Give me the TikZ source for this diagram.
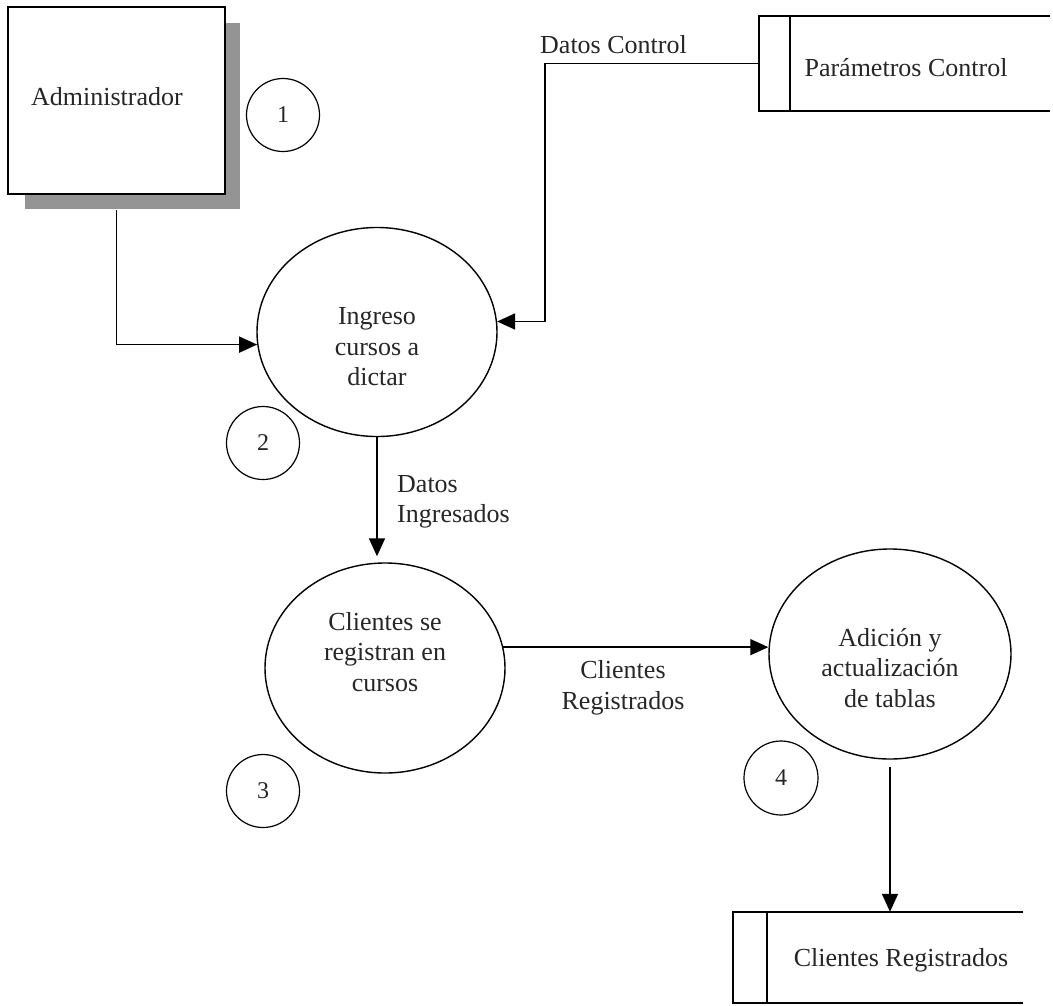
\documentclass[tikz,border=0pt]{standalone}
\usepackage{fontspec}
\setmainfont{Liberation Serif}
\usetikzlibrary{shapes.geometric,arrows.meta,calc}
\tikzset{
  lbl/.style={font=\fontsize{26}{30.5}\selectfont, inner sep=0pt, align=center, text=black!85},
  proc/.style={ellipse, draw, line width=1.4pt, inner sep=0pt},
  num/.style={circle, draw, line width=1.2pt, minimum size=73pt, inner sep=0pt, font=\fontsize{24}{28}\selectfont, text=black!85},
  flow/.style={line width=1.5pt, -{Triangle[length=18pt,width=16pt]}},
  storebox/.style={inner sep=0pt},
  edgeline/.style={line width=1.5pt},
}
\begin{document}
\begin{tikzpicture}[x=1pt,y=-1pt]
\useasboundingbox (0,0) rectangle (1053,1005);
% external entity with shadow
\fill[black!42] (25,23) rectangle (240,209);
\node[draw, fill=white, line width=1.5pt, minimum width=217pt, minimum height=187pt, inner sep=0pt] (admin) at (116.5,100.5) {};
\node[lbl] (admintxt) at (107,97) {Administrador};
% number circles
\node[num] (n1) at (283,115) {1};
\node[num] (n2) at (263,443) {2};
\node[num] (n3) at (263,791) {3};
\node[num, minimum size=74pt] (n4) at (781,778) {4};
% processes
\node[proc, minimum width=240pt, minimum height=209pt] (e2) at (377,332) {};
\node[lbl] (e2t) at (377,347) {Ingreso\\cursos a\\dictar};
\node[proc, minimum width=240pt, minimum height=210pt] (e3) at (385,668) {};
\node[lbl] (e3t) at (385,652) {Clientes se\\registran en\\cursos};
\node[proc, minimum width=242pt, minimum height=210pt] (e4) at (890,654) {};
\node[lbl] (e4t) at (890,668) {Adición y\\actualización\\de tablas};
% data stores
\node[storebox, minimum width=291pt, minimum height=95pt] (ps) at (904.5,63.5) {};
\draw[edgeline] (ps.north east) -- (ps.north west) -- (ps.south west) -- (ps.south east);
\draw[edgeline] ($(ps.north west)+(31,0)$) -- ($(ps.south west)+(31,0)$);
\node[lbl] (pst) at (906,68) {Parámetros Control};
\node[storebox, minimum width=290pt, minimum height=91pt] (cr) at (878,957.5) {};
\draw[edgeline] (cr.north east) -- (cr.north west) -- (cr.south west) -- (cr.south east);
\draw[edgeline] ($(cr.north west)+(34,0)$) -- ($(cr.south west)+(34,0)$);
\node[lbl] (crt) at (901,960) {Clientes Registrados};
% flows
\draw[flow, shorten <=15pt] (admin.south) |- (e2.186);
\coordinate (dcx) at (545,66);
\draw[flow] (ps.west) -| (dcx |- e2.5) -- (e2.5);
\node[lbl, anchor=west] (dctl) at (540,45) {Datos Control};
\draw[flow, shorten >=6pt] (e2.south) -- (e2.south |- e3.north);
\node[lbl, align=left, anchor=west] (dingl) at (397,502) {Datos\\Ingresados};
\draw[flow] (e3.10) -- (e3.10 -| e4.west);
\node[lbl] (crl) at (623,688) {Clientes\\Registrados};
\draw[flow, shorten <=7pt] (e4.south) -- (e4.south |- cr.north);
\end{tikzpicture}
\end{document}
